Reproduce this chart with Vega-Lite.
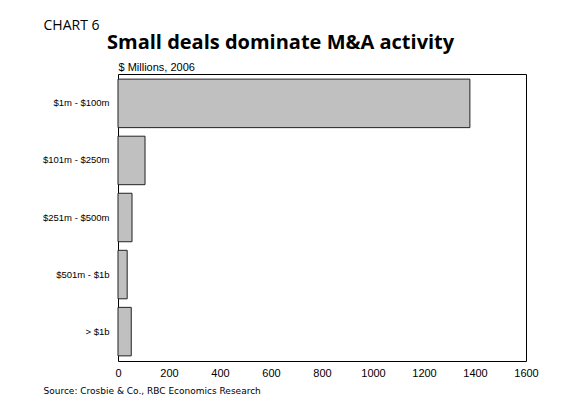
{
  "$schema": "https://vega.github.io/schema/vega-lite/v6.json",
  "width": 408,
  "height": 287,
  "autosize": {"type": "none"},
  "padding": {"left": 118, "top": 74, "right": 40, "bottom": 35},
  "background": "white",
  "title": {
    "text": "Small deals dominate M&A activity",
    "anchor": "start",
    "frame": "group",
    "dx": -11,
    "dy": 38,
    "font": "Open Sans",
    "fontSize": 20,
    "fontWeight": "bold",
    "color": "#000",
    "offset": 3
  },
  "data": {
    "values": [
      {"size": "$1m - $100m", "value": 1380},
      {"size": "$101m - $250m", "value": 106},
      {"size": "$251m - $500m", "value": 55},
      {"size": "$501m - $1b", "value": 36},
      {"size": "> $1b", "value": 52}
    ]
  },
  "encoding": {
    "y": {
      "field": "size",
      "type": "nominal",
      "sort": null,
      "scale": {"paddingInner": 0.15, "paddingOuter": 0.09},
      "axis": {
        "title": "CHART 6",
        "titleAngle": 0,
        "titleAlign": "left",
        "titleBaseline": "alphabetic",
        "titleX": -75,
        "titleY": -45,
        "titleFont": "Open Sans",
        "titleFontSize": 14,
        "titleFontWeight": "normal",
        "titleColor": "#000",
        "ticks": false,
        "domain": false,
        "labelFont": "Liberation Sans",
        "labelFontSize": 9.5,
        "labelPadding": 9,
        "labelColor": "#000"
      }
    }
  },
  "layer": [
    {
      "mark": {"type": "bar", "fill": "#c0c0c0", "stroke": "#222", "strokeWidth": 1},
      "encoding": {
        "x": {
          "field": "value",
          "type": "quantitative",
          "scale": {"domain": [0, 1600], "nice": false},
          "axis": {
            "orient": "bottom",
            "values": [0, 200, 400, 600, 800, 1000, 1200, 1400, 1600],
            "format": "d",
            "grid": false,
            "ticks": false,
            "domain": false,
            "labelFlush": false,
            "labelPadding": 6,
            "labelFont": "Liberation Sans",
            "labelFontSize": 11,
            "labelColor": "#000",
            "title": "Source: Crosbie & Co., RBC Economics Research",
            "titleAngle": 0,
            "titleAlign": "left",
            "titleBaseline": "alphabetic",
            "titleX": -75,
            "titleY": 32,
            "titleFont": "DejaVu Sans",
            "titleFontSize": 9,
            "titleFontWeight": "normal",
            "titleColor": "#000"
          }
        }
      }
    },
    {
      "mark": {"type": "bar", "opacity": 0},
      "encoding": {
        "x": {
          "field": "value",
          "type": "quantitative",
          "scale": {"domain": [0, 1600], "nice": false},
          "axis": {
            "orient": "top",
            "labels": false,
            "ticks": false,
            "domain": false,
            "grid": false,
            "title": "$ Millions, 2006",
            "titleAngle": 0,
            "titleAlign": "left",
            "titleBaseline": "alphabetic",
            "titleX": 0,
            "titleY": -4,
            "titleFont": "Liberation Sans",
            "titleFontSize": 11,
            "titleFontWeight": "normal",
            "titleColor": "#000"
          }
        }
      }
    }
  ],
  "resolve": {"axis": {"x": "independent"}},
  "config": {"view": {"stroke": "#000", "strokeWidth": 1}}
}
